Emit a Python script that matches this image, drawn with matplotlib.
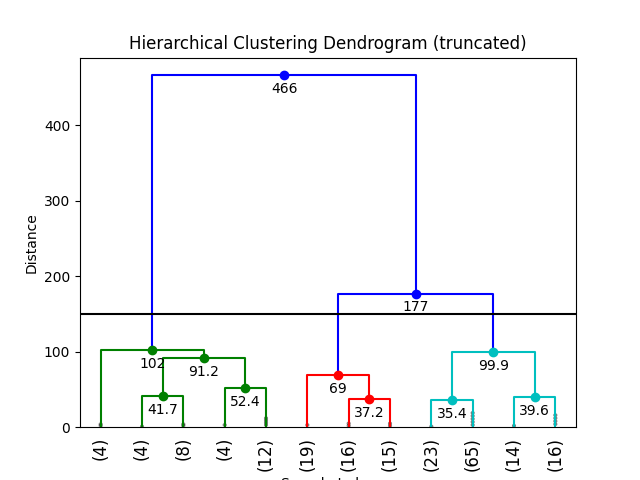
import matplotlib
matplotlib.use('Agg')
import matplotlib.pyplot as plt
from matplotlib.patches import Ellipse

# leaves (truncated clusters) left to right
leaf_labels = ['(4)', '(4)', '(8)', '(4)', '(12)', '(19)', '(16)', '(15)', '(23)', '(65)', '(14)', '(16)']

# merges: new node id = 12 + index
merge_left = [1, 3, 12, 0, 6, 5, 8, 10, 18, 17, 15]
merge_right = [2, 4, 13, 14, 7, 16, 9, 11, 19, 20, 21]
merge_height = [41.7, 52.4, 91.2, 102.0, 37.2, 69.0, 35.4, 39.6, 99.9, 177.0, 466.0]
merge_color = ['g', 'g', 'g', 'g', 'r', 'r', 'c', 'c', 'c', 'b', 'b']

# contraction marks inside the truncated leaves (leaf index, height)
mark_leaf = [0, 0, 1, 2, 2, 3, 4, 4, 4, 4, 5, 6, 6, 7, 7, 8, 9, 9, 9, 9, 9, 10, 11, 11, 11, 11]
mark_height = [2, 4, 1, 2, 4, 3, 3, 6, 9, 12, 3, 2, 5, 2, 5, 1, 3, 7, 11, 15, 19, 2, 4, 8, 12, 16]

max_d = 150
annotate_above = 10

n = len(leaf_labels)
xpos = {i: 5 + 10 * i for i in range(n)}
ypos = {i: 0.0 for i in range(n)}

fig = plt.figure(figsize=(6.4, 4.8), dpi=100)
ax = plt.gca()

for k in range(len(merge_height)):
    l, r, h, c = merge_left[k], merge_right[k], merge_height[k], merge_color[k]
    xl, xr = xpos[l], xpos[r]
    plt.plot([xl, xl, xr, xr], [ypos[l], h, h, ypos[r]], c=c, lw=1.5)
    node = n + k
    xpos[node] = 0.5 * (xl + xr)
    ypos[node] = h

ymax = max(merge_height) * 1.05
for li, mh in zip(mark_leaf, mark_height):
    e = Ellipse((xpos[li], mh), width=1.0, height=ymax / 100)
    ax.add_artist(e)
    e.set_clip_box(ax.bbox)
    e.set_alpha(0.5)
    e.set_facecolor('k')

for k in range(len(merge_height)):
    x = xpos[n + k]
    y = merge_height[k]
    if y > annotate_above:
        plt.plot(x, y, 'o', c=merge_color[k])
        plt.annotate('%.3g' % y, (x, y), xytext=(0, -5),
                     textcoords='offset points', va='top', ha='center')

plt.axhline(y=max_d, c='k')

plt.xlim(0, 10 * n)
plt.ylim(0, ymax)
plt.xticks([xpos[i] for i in range(n)], leaf_labels, rotation=90, fontsize=12)
for line in ax.get_xticklines():
    line.set_visible(False)

plt.title('Hierarchical Clustering Dendrogram (truncated)')
plt.xlabel('Sample Index')
plt.ylabel('Distance')
plt.savefig('out.png')
